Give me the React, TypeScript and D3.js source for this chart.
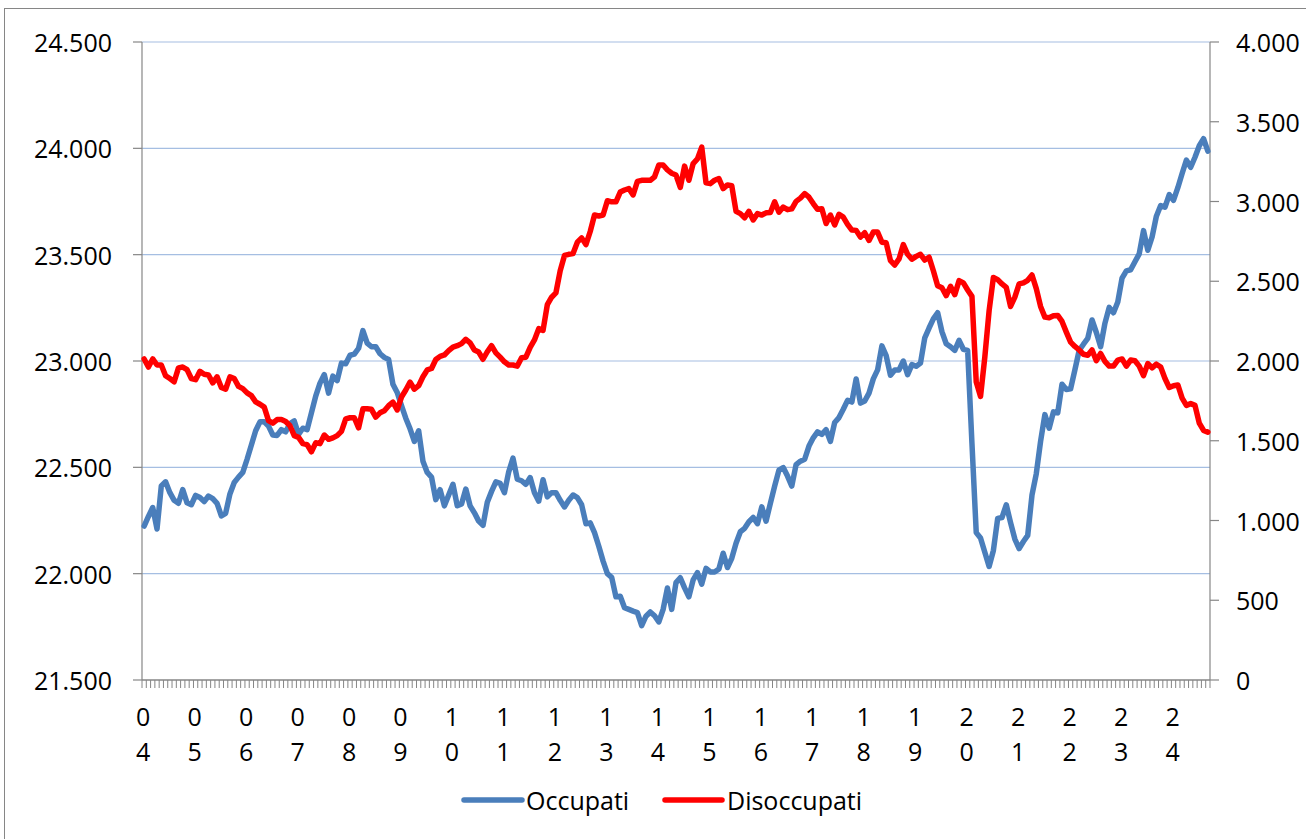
import React from "react";
import * as d3 from "d3";

const yearLabels = ["04","05","06","07","08","09","10","11","12","13","14","15","16","17","18","19","20","21","22","23","24"];

const occupati = [
22224,22269,22311,22210,22412,22432,22381,22345,22331,22395,22333,22324,
22368,22358,22339,22365,22353,22331,22272,22284,22375,22429,22454,22476,
22538,22605,22672,22714,22714,22694,22652,22650,22677,22667,22706,22718,
22655,22684,22677,22756,22835,22896,22936,22849,22929,22908,22990,22987,
23027,23032,23060,23143,23084,23067,23067,23034,23017,23007,22891,22852,
22790,22731,22681,22622,22672,22529,22476,22454,22348,22395,22319,22370,
22420,22319,22328,22398,22319,22286,22247,22227,22336,22387,22432,22425,
22381,22479,22543,22444,22437,22420,22452,22381,22341,22442,22361,22381,
22381,22345,22314,22345,22370,22358,22324,22235,22239,22193,22129,22059,
22000,21983,21891,21894,21840,21832,21824,21817,21756,21800,21820,21802,
21773,21832,21933,21832,21958,21981,21933,21891,21971,22005,21951,22025,
22008,22008,22022,22096,22029,22072,22143,22197,22213,22244,22264,22235,
22314,22247,22331,22412,22487,22499,22459,22412,22513,22529,22538,22600,
22639,22667,22655,22677,22622,22711,22734,22773,22815,22807,22915,22802,
22812,22849,22916,22958,23071,23025,22933,22958,22958,23000,22936,22983,
22975,22990,23109,23155,23198,23227,23138,23081,23067,23050,23097,23055,
23050,22613,22193,22168,22101,22034,22109,22260,22264,22324,22240,22163,
22118,22151,22180,22370,22470,22622,22748,22684,22761,22756,22891,22866,
22869,22958,23050,23079,23106,23193,23134,23067,23177,23252,23227,23277,
23390,23424,23429,23467,23504,23613,23521,23583,23681,23731,23723,23782,
23756,23815,23882,23945,23911,23958,24012,24045,23987
];

const disoccupati = [
2013,1962,2013,1975,1975,1908,1890,1870,1957,1962,1946,1890,
1883,1935,1917,1912,1863,1901,1834,1823,1901,1890,1841,1827,
1800,1783,1744,1729,1711,1626,1610,1633,1633,1621,1594,1532,
1521,1482,1476,1431,1487,1482,1536,1509,1518,1532,1559,1637,
1644,1644,1581,1700,1700,1697,1648,1675,1688,1720,1742,1693,
1774,1818,1868,1823,1845,1901,1944,1953,2009,2029,2038,2065,
2087,2096,2109,2136,2114,2069,2056,2011,2058,2096,2051,2024,
1995,1975,1975,1968,2020,2024,2085,2132,2203,2192,2353,2400,
2427,2566,2662,2669,2674,2745,2772,2730,2812,2915,2909,2915,
3005,2998,2998,3059,3072,3081,3041,3126,3133,3133,3133,3155,
3229,3229,3198,3177,3166,3088,3222,3133,3238,3267,3341,3117,
3112,3133,3144,3081,3104,3099,2938,2924,2898,2938,2884,2924,
2915,2929,2931,2998,2933,2965,2949,2954,3001,3021,3050,3027,
2987,2951,2954,2862,2915,2853,2920,2902,2857,2821,2819,2777,
2804,2756,2808,2808,2745,2741,2629,2602,2640,2730,2669,2638,
2656,2669,2633,2651,2566,2472,2459,2410,2468,2416,2504,2490,
2445,2405,1868,1778,2024,2315,2524,2510,2483,2461,2342,2400,
2483,2490,2506,2539,2454,2342,2275,2271,2284,2286,2248,2181,
2118,2091,2069,2042,2036,2069,2002,2047,1998,1968,1968,2006,
2013,1968,2006,2002,1968,1908,1984,1957,1980,1962,1890,1834,
1845,1850,1767,1722,1733,1722,1610,1565,1554
];

const leftTicks = [21500, 22000, 22500, 23000, 23500, 24000, 24500];
const rightTicks = [0, 500, 1000, 1500, 2000, 2500, 3000, 3500, 4000];
const seriesNames = ["Occupati", "Disoccupati"];

const W = 1306, H = 839;
const L = 142, R = 1210, T = 42, B = 680;
const FONT = "'Open Sans', 'Noto Sans', sans-serif";
const AXIS = "#868686";
const BLUE = "#4A7EBB";
const RED = "#FF0000";

const locale = d3.formatLocale({ decimal: ",", thousands: ".", grouping: [3], currency: ["", ""] });
const fmt = locale.format(",.0f");

export default function App() {
  const idx = d3.range(occupati.length);
  const x = d3.scaleBand<number>().domain(idx).range([L, R]).paddingInner(0).paddingOuter(0);
  const bw = x.bandwidth();
  const cx = (i: number) => (x(i) as number) + bw / 2;
  const yL = d3.scaleLinear().domain([21500, 24500]).range([B, T]);
  const yR = d3.scaleLinear().domain([0, 4000]).range([B, T]);

  const lineL = d3.line<number>().x((_, i) => cx(i)).y((d) => yL(d));
  const lineR = d3.line<number>().x((_, i) => cx(i)).y((d) => yR(d));

  const catTicks = d3.range(idx.length + 1).map((k) => L + k * bw);
  const tickPath = catTicks.map((t) => `M${t},${B}V${B + 8}`).join("");

  return (
    <svg width={W} height={H} style={{ position: "absolute", left: 0, top: 0, background: "#fff" }}>
      <rect x={4.5} y={8.5} width={1320} height={850} fill="#fff" stroke={AXIS} strokeWidth={1} />
      {leftTicks.filter((t) => t !== 21500).map((t) => (
        <line key={"g" + t} x1={L} x2={R} y1={yL(t)} y2={yL(t)} stroke="#A5BEE2" strokeWidth={1.2} />
      ))}
      {/* axes */}
      <line x1={L} x2={L} y1={T} y2={B} stroke={AXIS} strokeWidth={1.2} />
      <line x1={R} x2={R} y1={T} y2={B} stroke={AXIS} strokeWidth={1.2} />
      <line x1={L} x2={R} y1={B} y2={B} stroke={AXIS} strokeWidth={1.5} />
      <path d={tickPath} stroke={AXIS} strokeWidth={1} fill="none" />
      {leftTicks.map((t) => (
        <g key={"l" + t}>
          <line x1={L - 9} x2={L} y1={yL(t)} y2={yL(t)} stroke={AXIS} strokeWidth={1.2} />
          <text x={112} y={yL(t)} textAnchor="end" dominantBaseline="central" fontFamily={FONT} fontSize={25} fill="#000">
            {fmt(t)}
          </text>
        </g>
      ))}
      {rightTicks.map((t) => (
        <g key={"r" + t}>
          <line x1={R} x2={R + 9} y1={yR(t)} y2={yR(t)} stroke={AXIS} strokeWidth={1.2} />
          <text x={1236} y={yR(t)} textAnchor="start" dominantBaseline="central" fontFamily={FONT} fontSize={25} fill="#000">
            {fmt(t)}
          </text>
        </g>
      ))}
      {yearLabels.map((lab, k) => {
        const xi = cx(k * 12) - 1;
        return (
          <text key={"x" + lab} x={xi} textAnchor="middle" fontFamily={FONT} fontSize={25} fill="#000">
            <tspan x={xi} y={726}>{lab[0]}</tspan>
            <tspan x={xi} y={761}>{lab[1]}</tspan>
          </text>
        );
      })}
      <path d={lineL(occupati) || ""} fill="none" stroke={BLUE} strokeWidth={5.5} strokeLinejoin="round" strokeLinecap="round" />
      <path d={lineR(disoccupati) || ""} fill="none" stroke={RED} strokeWidth={5.5} strokeLinejoin="round" strokeLinecap="round" />
      {/* legend */}
      <line x1={464} x2={522} y1={800} y2={800} stroke={BLUE} strokeWidth={5.5} strokeLinecap="round" />
      <text x={526} y={800} dominantBaseline="central" fontFamily={FONT} fontSize={25} fill="#000">{seriesNames[0]}</text>
      <line x1={665} x2={722} y1={800} y2={800} stroke={RED} strokeWidth={5.5} strokeLinecap="round" />
      <text x={727} y={800} dominantBaseline="central" fontFamily={FONT} fontSize={25} fill="#000">{seriesNames[1]}</text>
    </svg>
  );
}
